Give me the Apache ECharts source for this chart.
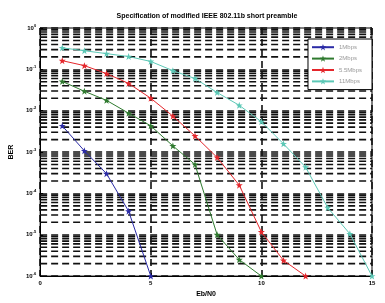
<!DOCTYPE html>
<html><head><meta charset="utf-8">
<script src="https://cdn.jsdelivr.net/npm/echarts@6/dist/echarts.min.js"></script>
<style>html,body{margin:0;padding:0;background:#fff}#c{width:385px;height:303px}</style>
</head><body><div id="c"></div>
<script>
const seriesNames = ['1Mbps', '2Mbps', '5.5Mbps', '11Mbps'];
const seriesColors = ['#2b2ba6', '#2f7a2f', '#e4262b', '#5cc8b6'];
const x1 = [1, 2, 3, 4, 5];
const ber1 = [4.3e-3, 1.07e-3, 3.0e-4, 3.7e-5, 1e-6];
const x2 = [1, 2, 3, 4, 5, 6, 7, 8, 9, 10];
const ber2 = [5.1e-2, 2.95e-2, 1.78e-2, 8.7e-3, 4.3e-3, 1.41e-3, 5.0e-4, 1.0e-5, 2.5e-6, 1e-6];
const x3 = [1, 2, 3, 4, 5, 6, 7, 8, 9, 10, 11, 12];
const ber3 = [0.162, 0.123, 0.079, 0.0457, 0.02, 7.4e-3, 2.45e-3, 7.4e-4, 1.58e-4, 1.17e-5, 2.4e-6, 1e-6];
const x4 = [1, 2, 3, 4, 5, 6, 7, 8, 9, 10, 11, 12, 13, 14, 15];
const ber4 = [0.331, 0.282, 0.24, 0.204, 0.155, 0.093, 0.06, 0.0275, 0.0135, 5.4e-3, 1.58e-3, 4.3e-4, 4.5e-5, 1.05e-5, 1e-6];
const xTicks = [0, 5, 10, 15];
const yDecades = [-6, -5, -4, -3, -2, -1, 0];

const xs = [x1, x2, x3, x4];
const ys = [ber1, ber2, ber3, ber4];
const xMin = 0, xMax = 15;

// minor log grid lines (2..9 x 10^e)
const minorVals = [];
for (let i = 0; i < yDecades.length - 1; i++) {
  for (let k = 2; k <= 9; k++) minorVals.push(k * Math.pow(10, yDecades[i]));
}
const gridStyle = { color: '#111', width: 1.6, type: [7, 4] };

const star = 'path://M0,-5L1.2,-1.6L4.8,-1.6L1.9,0.6L3,4.2L0,2L-3,4.2L-1.9,0.6L-4.8,-1.6L-1.2,-1.6Z';

const series = [];
minorVals.forEach(v => {
  series.push({
    type: 'line', silent: true, symbol: 'none', z: 1,
    data: [[xMin, v], [xMax, v]],
    lineStyle: gridStyle
  });
});
seriesNames.forEach((n, i) => series.push({
  name: n,
  type: 'line',
  data: xs[i].map((x, j) => [x, ys[i][j]]),
  symbol: star,
  symbolSize: 7,
  lineStyle: { color: seriesColors[i], width: 1 },
  itemStyle: { color: seriesColors[i] },
  z: 5
}));

const chart = echarts.init(document.getElementById('c'), null, { renderer: 'canvas' });
chart.setOption({
  animation: false,
  backgroundColor: '#fff',
  title: {
    text: 'Specification of modified IEEE 802.11b short preamble',
    left: 202, top: 8, textAlign: 'center',
    textStyle: { fontSize: 7, fontWeight: 'bold', color: '#000', fontFamily: 'Liberation Sans' }
  },
  legend: {
    data: seriesNames,
    orient: 'vertical',
    right: 13, top: 39,
    backgroundColor: '#fff',
    borderColor: '#000', borderWidth: 1,
    padding: [5, 10, 5, 3],
    itemWidth: 22, itemHeight: 8, itemGap: 5,
    textStyle: { fontSize: 6, color: '#999', fontFamily: 'Liberation Sans' }
  },
  grid: { left: 33, right: 13, top: 28, bottom: 24, show: true, borderColor: '#000', borderWidth: 1, backgroundColor: 'transparent' },
  xAxis: {
    type: 'value', min: xMin, max: xMax, interval: 5,
    name: 'Eb/N0', nameLocation: 'middle', nameGap: 10,
    nameTextStyle: { fontSize: 7, fontWeight: 'bold', color: '#000', fontFamily: 'Liberation Sans' },
    axisLine: { show: true, lineStyle: { color: '#000' } },
    axisTick: { show: true, inside: true, length: 3, lineStyle: { color: '#000' } },
    axisLabel: { fontSize: 6, fontWeight: 'bold', color: '#000', margin: 4,
      formatter: v => (xTicks.indexOf(v) >= 0 ? String(v) : '') },
    splitLine: { show: true, lineStyle: gridStyle }
  },
  yAxis: {
    type: 'log', logBase: 10, min: 1e-6, max: 1,
    name: 'BER', nameLocation: 'middle', nameGap: 20, nameRotate: 90,
    nameTextStyle: { fontSize: 7, fontWeight: 'bold', color: '#000', fontFamily: 'Liberation Sans' },
    axisLine: { show: true, lineStyle: { color: '#000' } },
    axisTick: { show: true, inside: true, length: 3, lineStyle: { color: '#000' } },
    axisLabel: {
      margin: 4, color: '#000',
      formatter: v => { const e = Math.round(Math.log10(v)); return yDecades.indexOf(e) >= 0 ? '{b|10}{s|' + e + '}' : ''; },
      rich: {
        b: { fontSize: 6, fontWeight: 'bold', color: '#000', fontFamily: 'Liberation Sans' },
        s: { fontSize: 4, fontWeight: 'bold', color: '#000', verticalAlign: 'top', padding: [0, 0, 5, 0], fontFamily: 'Liberation Sans' }
      }
    },
    splitLine: { show: true, lineStyle: gridStyle }
  },
  series: series
});
</script></body></html>
